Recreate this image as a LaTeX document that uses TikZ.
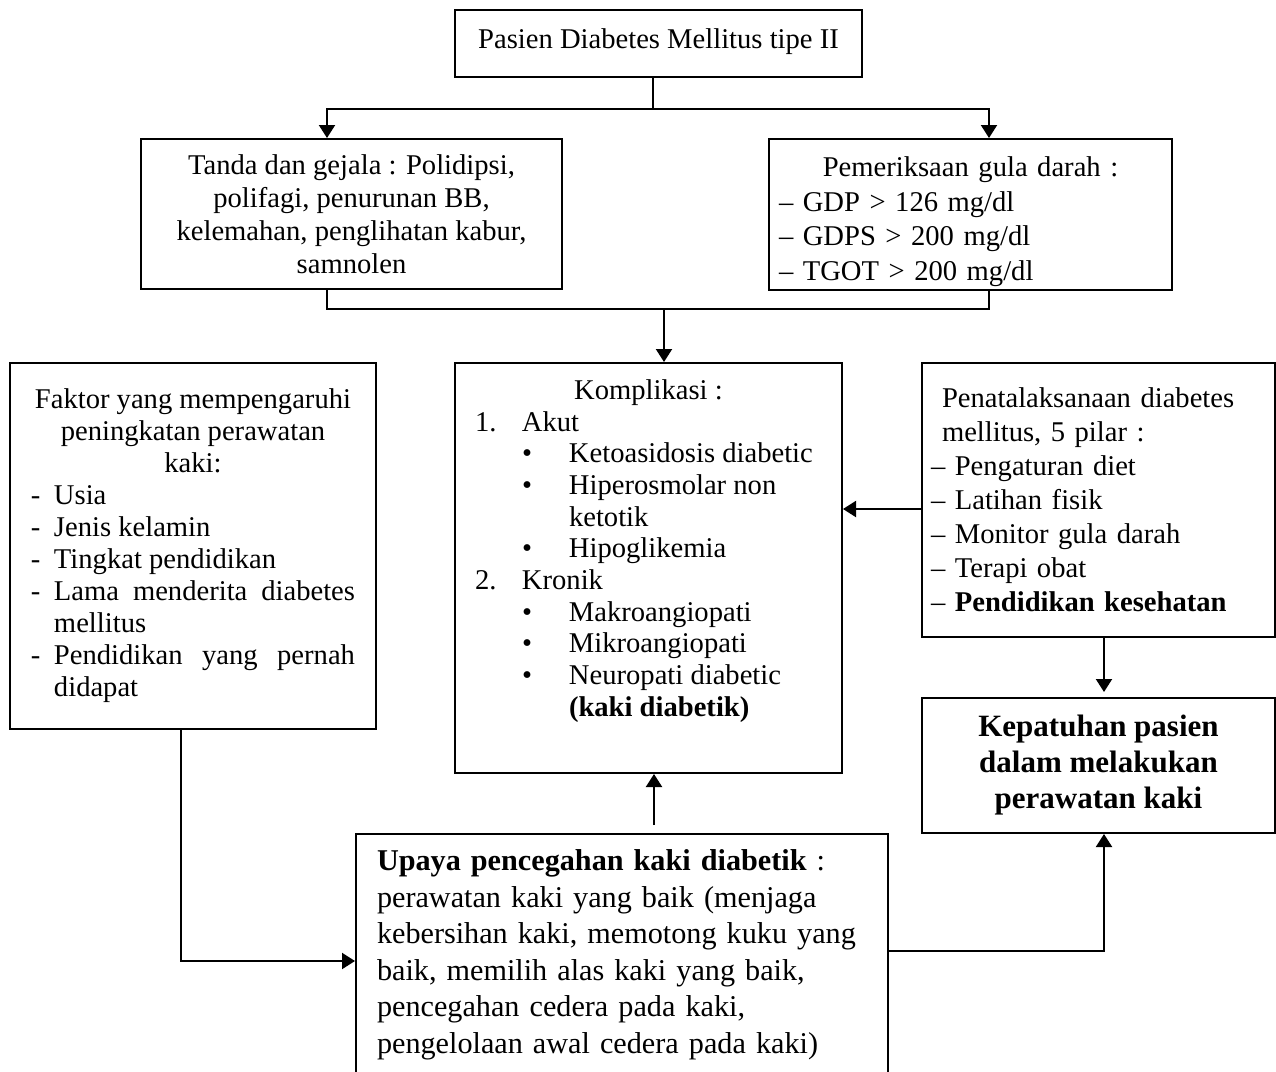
\documentclass[tikz,border=0pt]{standalone}
\usepackage{fontspec}
\setmainfont{Liberation Serif}
\usepackage{array}
\usetikzlibrary{arrows.meta}
\tolerance=10000
\hbadness=10000

\begin{document}
\begin{tikzpicture}[
  x=0.5pt, y=-0.5pt,
  box/.style={draw, line width=1pt, inner sep=0pt, font=\fontsize{14.3}{16.5}\selectfont},
  ln/.style={draw, line width=1pt},
  arr/.style={draw, line width=1pt, -{Triangle[length=6.5pt, width=8pt]}}
]
  \useasboundingbox (0,0) rectangle (1276,1072);

  \node[box, minimum width=203.5pt, minimum height=33.5pt] (pasien) at (658.5,43.5) {Pasien Diabetes Mellitus tipe II\rule[-5pt]{0pt}{1pt}};
  \node[box, align=center, minimum width=210.5pt, minimum height=75pt] (tanda) at (351.5,214) {Tanda dan gejala : Polidipsi,\\polifagi, penurunan BB,\\kelemahan, penglihatan kabur,\\samnolen};
  \node[box, font=\fontsize{14.3}{17.2}\selectfont, align=left, text width=191.5pt, inner xsep=5pt, minimum width=201.5pt, minimum height=75.5pt] (periksa) at (970.5,214.5) {\rule{0pt}{17pt}\makebox[191.5pt]{Pemeriksaan gula darah :}\\-- GDP > 126 mg/dl\\-- GDPS > 200 mg/dl\\-- TGOT > 200 mg/dl};
  \node[box, font=\fontsize{14.3}{16}\selectfont, minimum width=183pt, minimum height=183pt] (faktor) at (193,546) {%
    \begin{tabular}{@{}p{11.5pt}@{}p{150.5pt}@{}}
      \multicolumn{2}{@{}c@{}}{Faktor yang mempengaruhi}\\
      \multicolumn{2}{@{}c@{}}{peningkatan perawatan}\\
      \multicolumn{2}{@{}c@{}}{kaki:}\\
      - & Usia\\
      - & Jenis kelamin\\
      - & Tingkat pendidikan\\
      - & Lama menderita diabetes\linebreak mellitus\\
      - & Pendidikan yang pernah\linebreak didapat
    \end{tabular}};
  \node[box, font=\fontsize{14.3}{15.85}\selectfont, minimum width=193.5pt, minimum height=205pt] (kompl) at (648.5,568) {%
    \begin{tabular}{@{}p{23.5pt}@{}p{23.5pt}@{}p{126.5pt}@{}}
      \multicolumn{3}{@{}c@{}}{Komplikasi :}\\
      1. & \multicolumn{2}{@{}l@{}}{Akut}\\
         & \textbullet & Ketoasidosis diabetic\\
         & \textbullet & Hiperosmolar non\\
         &             & ketotik\\
         & \textbullet & Hipoglikemia\\
      2. & \multicolumn{2}{@{}l@{}}{Kronik}\\
         & \textbullet & Makroangiopati\\
         & \textbullet & Mikroangiopati\\
         & \textbullet & Neuropati diabetic\\
         &             & \textbf{(kaki diabetik)}\\[16.5pt]
    \end{tabular}};
  \node[box, font=\fontsize{14.3}{17}\selectfont, align=left, text width=167.5pt, inner xsep=4.5pt, minimum width=176.5pt, minimum height=137pt] (penata) at (1098.5,500) {\hspace*{5.5pt}Penatalaksanaan diabetes\\\hspace*{5.5pt}mellitus, 5 pilar :\\-- Pengaturan diet\\-- Latihan fisik\\-- Monitor gula darah\\-- Terapi obat\\-- \textbf{Pendidikan kesehatan}};
  \node[box, font=\fontsize{15.5}{18}\selectfont\bfseries, align=center, minimum width=176.5pt, minimum height=67.5pt] (patuh) at (1098.5,765.5) {Kepatuhan pasien\\dalam melakukan\\perawatan kaki};
  \node[box, font=\fontsize{15.1}{18.25}\selectfont, align=left, text width=245pt, inner xsep=10.5pt, minimum width=266pt, minimum height=121pt] (upaya) at (622,955) {\textbf{Upaya pencegahan kaki diabetik} :\\perawatan kaki yang baik (menjaga\\kebersihan kaki, memotong kuku yang\\baik, memilih alas kaki yang baik,\\pencegahan cedera pada kaki,\\pengelolaan awal cedera pada kaki)};

  \coordinate (pecah) at (653,109);
  \coordinate (kiri) at (327,109);
  \coordinate (kanan) at (989,109);
  \coordinate (gabung) at (664,309);
  \coordinate (naik) at (654,825);
  \coordinate (siku) at (181,961);
  \coordinate (tengah) at (1104,951);

  \draw[ln] (pasien.south -| pecah) -- (pecah);
  \draw[arr] (pecah) -- (kiri) -- (kiri |- tanda.north);
  \draw[arr] (pecah) -- (kanan) -- (kanan |- periksa.north);
  \draw[ln] (tanda.south -| kiri) |- (gabung) -| (periksa.south -| kanan);
  \draw[arr] (gabung) -- (gabung |- kompl.north);
  \draw[arr] ([yshift=-4.5pt]penata.west) -- ([yshift=-4.5pt]penata.west -| kompl.east);
  \draw[arr, shorten >=2.5pt] (penata.south -| tengah) -- (patuh.north -| tengah);
  \draw[arr] (naik) -- (naik |- kompl.south);
  \draw[arr] (faktor.south -| siku) -- (siku) -- (siku -| upaya.west);
  \draw[arr] (upaya.east |- tengah) -- (tengah) -- (patuh.south -| tengah);
\end{tikzpicture}
\end{document}
